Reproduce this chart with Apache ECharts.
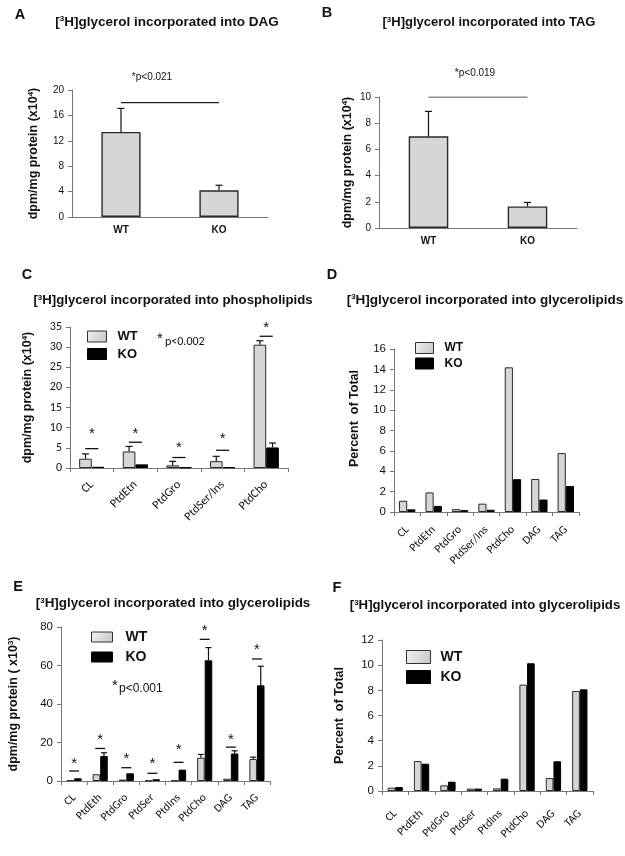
<!DOCTYPE html>
<html><head><meta charset="utf-8">
<script src="https://cdn.jsdelivr.net/npm/echarts@6/dist/echarts.min.js"></script>
<style>html,body{margin:0;padding:0;background:#fff}#c{width:625px;height:856px}</style>
</head><body><div id="c"></div>
<script>
// ---------- data ----------
const groupsAB = ['WT', 'KO'];
const dagValues = [13.4, 4.2];
const dagErrTop = [17.1, 5.0];
const tagValues = [7.0, 1.65];
const tagErrTop = [8.9, 1.95];

const catsC = ['CL', 'PtdEtn', 'PtdGro', 'PtdSer/Ins', 'PtdCho'];
const wtC = [2.3, 4.1, 0.65, 1.7, 30.6];
const koC = [0.3, 0.9, 0.15, 0.2, 5.1];
const wtCErrTop = [3.5, 5.35, 1.65, 2.9, 31.6];
const koCErrTop = [null, null, null, null, 6.2];
const sigLineC = [4.8, 6.4, 2.6, 4.4, 32.7];
const sigStarC = [9.3, 9.3, 5.8, 8.1, 35.7];

const catsD = ['CL', 'PtdEtn', 'PtdGro', 'PtdSer/Ins', 'PtdCho', 'DAG', 'TAG'];
const wtD = [1.1, 1.92, 0.28, 0.82, 14.2, 3.24, 5.78];
const koD = [0.26, 0.6, 0.18, 0.22, 3.22, 1.22, 2.55];

const catsE = ['CL', 'PtdEth', 'PtdGro', 'PtdSer', 'PtdIns', 'PtdCho', 'DAG', 'TAG'];
const wtE = [0.35, 3.5, 0.7, 0.2, 0.2, 12.1, 1.2, 11.4];
const koE = [1.4, 13.0, 4.0, 0.9, 5.9, 62.7, 14.3, 49.7];
const wtEErrTop = [null, null, null, null, null, 13.8, null, 12.4];
const koEErrTop = [null, 14.7, null, null, null, 69.3, 15.7, 59.6];
const sigLineE = [5.2, 16.9, 6.9, 4.0, 9.7, 73.6, 17.6, 63.4];
const sigStarE = [10.5, 23.0, 13.1, 10.4, 17.8, 79.5, 23.1, 69.6];

const catsF = ['CL', 'PtdEth', 'PtdGro', 'PtdSer', 'PtdIns', 'PtdCho', 'DAG', 'TAG'];
const wtF = [0.26, 2.38, 0.45, 0.19, 0.21, 8.45, 1.03, 7.95];
const koF = [0.32, 2.17, 0.74, 0.19, 0.98, 10.15, 2.36, 8.08];

const yTicksA = {min: 0, max: 20, interval: 4};
const yTicksB = {min: 0, max: 10, interval: 2};
const yTicksC = {min: 0, max: 35, interval: 5};
const yTicksD = {min: 0, max: 16, interval: 2};
const yTicksE = {min: 0, max: 80, interval: 20};
const yTicksF = {min: 0, max: 12, interval: 2};

// ---------- styles ----------
const ARIAL = '"Liberation Sans", Arial, sans-serif';
const CAL = 'Carlito, Lato, sans-serif';
const WT_FILL = '#d6d6d6';
const EDGE = '#2a2a2a';
const AXIS = '#777';

const grids = [
  {left: 72, top: 90, width: 196, height: 127},
  {left: 379, top: 97, width: 198, height: 131},
  {left: 70, top: 327, width: 218, height: 141},
  {left: 394, top: 349, width: 185, height: 163},
  {left: 61, top: 627, width: 209, height: 154},
  {left: 382, top: 640, width: 211, height: 151}
].map(g => Object.assign({outerBoundsMode: 'none', containLabel: false}, g));

function xAx(idx, data, opts) {
  return Object.assign({type: 'category', gridIndex: idx, data: data,
    axisLine: {show: true, lineStyle: {color: AXIS, width: 1}},
    axisTick: {show: true, length: 4, lineStyle: {color: AXIS}, alignWithLabel: false},
    axisLabel: {interval: 0, rotate: 45, fontFamily: CAL, fontSize: 12, color: '#111', margin: 14},
    splitLine: {show: false}}, opts || {});
}
const catLabel = (fs, margin) => ({interval: 0, rotate: 45, fontFamily: CAL, fontSize: fs, color: '#111', margin: margin});
const abLabel = {interval: 0, fontFamily: ARIAL, fontWeight: 'bold', fontSize: 10, color: '#111', margin: 8};
const supRich = (fs) => ({s: {fontSize: fs, fontFamily: ARIAL, fontWeight: 'bold', verticalAlign: 'top', color: '#111'}});
function yAx(idx, ticks, name, gap, labelFont, labelSize, namePad) {
  return Object.assign({type: 'value', gridIndex: idx,
    axisLine: {show: true, lineStyle: {color: AXIS, width: 1}},
    axisTick: {show: true, length: 4, lineStyle: {color: AXIS}},
    splitLine: {show: false},
    axisLabel: {fontFamily: labelFont, fontSize: labelSize, color: '#111', margin: 8},
    name: name, nameLocation: 'middle', nameRotate: 90, nameGap: gap,
    nameTextStyle: {fontFamily: ARIAL, fontWeight: 'bold', fontSize: 12.5, color: '#111', rich: supRich(8), padding: namePad || 0}
  }, ticks);
}

function bar(idx, name, data, fill, width, bw) {
  return {type: 'bar', name: name, xAxisIndex: idx, yAxisIndex: idx, data: data,
    barWidth: width, barGap: '0%', silent: true,
    itemStyle: {color: fill, borderColor: name === 'KO' ? '#000' : EDGE, borderWidth: bw || 1}};
}

function errBars(idx, values, tops, off, cap) {
  const data = [];
  tops.forEach((t, i) => { if (t != null) data.push([i, t, values[i]]); });
  return {type: 'custom', name: 'error', xAxisIndex: idx, yAxisIndex: idx, z: 3, silent: true,
    renderItem: (params, api) => {
      const bw = api.size([1, 0])[0];
      const top = api.coord([api.value(0), api.value(1)]);
      const base = api.coord([api.value(0), api.value(2)]);
      const x = top[0] + off * bw;
      return {type: 'group', children: [
        {type: 'line', shape: {x1: x, y1: base[1], x2: x, y2: top[1]}, style: {stroke: '#111', lineWidth: 1.2}},
        {type: 'line', shape: {x1: x - cap, y1: top[1], x2: x + cap, y2: top[1]}, style: {stroke: '#111', lineWidth: 1.2}}
      ]};
    }, data: data};
}

function sigMarks(idx, lines, stars, half, fs) {
  return {type: 'custom', name: 'significance', xAxisIndex: idx, yAxisIndex: idx, z: 4, silent: true, clip: false,
    renderItem: (params, api) => {
      const bw = api.size([1, 0])[0];
      const p = api.coord([api.value(0), api.value(1)]);
      const s = api.coord([api.value(0), api.value(2)]);
      return {type: 'group', children: [
        {type: 'line', shape: {x1: p[0] - half * bw, y1: p[1], x2: p[0] + half * bw, y2: p[1]}, style: {stroke: '#111', lineWidth: 1.3}},
        {type: 'text', x: s[0], y: s[1] + fs * 0.22, style: {text: '*', fontSize: fs, fontFamily: ARIAL, fill: '#111',
          align: 'center', verticalAlign: 'middle', textAlign: 'center', textVerticalAlign: 'middle'}}
      ]};
    }, data: lines.map((l, i) => [i, l, stars[i]])};
}

function sigLine(idx, values) {
  return {type: 'line', name: 'p-line', xAxisIndex: idx, yAxisIndex: idx, data: values, symbol: 'none',
    silent: true, lineStyle: {color: '#222', width: 1.2}, z: 4};
}

const legendData = [
  {name: 'WT', itemStyle: {color: {type: 'linear', x: 0, y: 0, x2: 1, y2: 1,
    colorStops: [{offset: 0, color: '#f2f2f2'}, {offset: 1, color: '#c4c4c4'}]}, borderColor: '#333', borderWidth: 1}},
  {name: 'KO', itemStyle: {color: '#000', borderColor: '#000', borderWidth: 1}}
];
function leg(left, top, w, h, gap, fs, tpad) {
  return {left: left, top: top, orient: 'vertical', itemWidth: w, itemHeight: h, itemGap: gap, padding: 0,
    icon: 'rect', selectedMode: false, data: legendData,
    textStyle: {fontFamily: ARIAL, fontWeight: 'bold', fontSize: fs, color: '#111', padding: [0, 0, 0, tpad]}};
}

function txt(x, y, text, fs, opts) {
  return {type: 'text', x: x, y: y, silent: true, style: Object.assign({text: text, fontSize: fs, fontFamily: ARIAL,
    fill: '#111', align: 'center', verticalAlign: 'middle', textAlign: 'center', textVerticalAlign: 'middle'}, opts || {})};
}
const titleRich = supRich(8);
function title(x, y, text, fs) {
  return txt(x, y, text, fs, {fontWeight: 'bold', rich: titleRich});
}

const option = {
  animation: false,
  backgroundColor: '#fff',
  grid: grids,
  xAxis: [
    xAx(0, groupsAB, {axisTick: {show: false}, axisLabel: abLabel}),
    xAx(1, groupsAB, {axisTick: {show: false}, axisLabel: abLabel}),
    xAx(2, catsC, {axisLabel: catLabel(12, 15)}),
    xAx(3, catsD, {axisLabel: catLabel(11.5, 16)}),
    xAx(4, catsE, {axisLabel: catLabel(11.5, 15)}),
    xAx(5, catsF, {axisLabel: catLabel(11.5, 21)})
  ],
  yAxis: [
    yAx(0, yTicksA, 'dpm/mg protein (x10{s|4})', 32, ARIAL, 10),
    yAx(1, yTicksB, 'dpm/mg protein (x10{s|4})', 25, ARIAL, 10),
    yAx(2, yTicksC, 'dpm/mg protein (x10{s|4})', 36, CAL, 12),
    yAx(3, yTicksD, 'Percent  of Total', 33, ARIAL, 11.5, [0, 0, 0, 24]),
    yAx(4, yTicksE, 'dpm/mg protein ( x10{s|3})', 41, ARIAL, 11.5),
    yAx(5, yTicksF, 'Percent  of Total', 36, ARIAL, 11.5)
  ],
  legend: [
    leg(87, 330, 19, 11, 4.5, 13, 6),
    leg(415, 342, 18, 11, 3.5, 12, 6),
    leg(91, 630, 21, 10, 6, 14, 8),
    leg(406, 650, 24, 13, 6, 14, 5)
  ],
  series: [
    bar(0, 'DAG', dagValues, WT_FILL, '40%', 1.4),
    errBars(0, dagValues, dagErrTop, 0, 3.5),
    sigLine(0, [18, 18]),
    bar(1, 'TAG', tagValues, WT_FILL, '40%', 1.4),
    errBars(1, tagValues, tagErrTop, 0, 3.5),
    sigLine(1, [10, 10]),

    bar(2, 'WT', wtC, WT_FILL, '29%'),
    bar(2, 'KO', koC, '#000', '29%'),
    errBars(2, wtC, wtCErrTop, -0.145, 3.5),
    errBars(2, koC, koCErrTop, 0.145, 3.5),
    sigMarks(2, sigLineC, sigStarC, 0.15, 15),

    bar(3, 'WT', wtD, WT_FILL, '31%'),
    bar(3, 'KO', koD, '#000', '31%'),

    bar(4, 'WT', wtE, WT_FILL, '29%'),
    bar(4, 'KO', koE, '#000', '29%'),
    errBars(4, wtE, wtEErrTop, -0.145, 3),
    errBars(4, koE, koEErrTop, 0.145, 3),
    sigMarks(4, sigLineE, sigStarE, 0.19, 15),

    bar(5, 'WT', wtF, WT_FILL, '29%'),
    bar(5, 'KO', koF, '#000', '29%')
  ],
  graphic: [
    txt(20, 15, 'A', 14.5, {fontWeight: 'bold'}),
    txt(327, 13, 'B', 14.5, {fontWeight: 'bold'}),
    txt(27, 275, 'C', 14.5, {fontWeight: 'bold'}),
    txt(332, 275, 'D', 14.5, {fontWeight: 'bold'}),
    txt(18, 587, 'E', 14.5, {fontWeight: 'bold'}),
    txt(337, 588, 'F', 14.5, {fontWeight: 'bold'}),
    title(167, 22, '[{s|3}H]glycerol incorporated into DAG', 13.5),
    title(489, 22, '[{s|3}H]glycerol incorporated into TAG', 13),
    title(173, 300, '[{s|3}H]glycerol incorporated into phospholipids', 13.2),
    title(485, 300, '[{s|3}H]glycerol incorporated into glycerolipids', 13.5),
    title(173, 603, '[{s|3}H]glycerol incorporated into glycerolipids', 13.4),
    title(485, 605, '[{s|3}H]glycerol incorporated into glycerolipids', 13.2),
    txt(152, 77, '*p<0.021', 10),
    txt(475, 73, '*p<0.019', 10),
    txt(160, 339, '*', 15),
    txt(165, 342, 'p<0.002', 12, {fontFamily: CAL, align: 'left', textAlign: 'left'}),
    txt(115, 686, '*', 15),
    txt(119, 689, 'p<0.001', 12, {align: 'left', textAlign: 'left'})
  ]
};

const chart = echarts.init(document.getElementById('c'), null, {renderer: 'canvas', width: 625, height: 856});
chart.setOption(option);
</script>
</body></html>
